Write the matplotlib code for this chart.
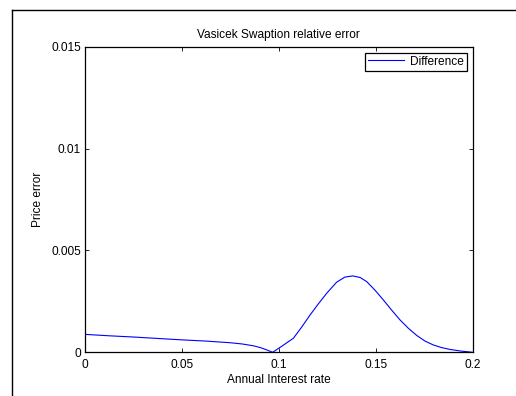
import matplotlib
matplotlib.use("Agg")
import matplotlib.pyplot as plt
from matplotlib.lines import Line2D

# values
rate = [0.0, 0.0125, 0.025, 0.0375, 0.05, 0.0625, 0.0748, 0.0810, 0.0868, 0.0905, 0.0937, 0.0968,
        0.1020, 0.1075, 0.1118, 0.1161, 0.1204, 0.1247, 0.1298, 0.1340, 0.1381, 0.1420,
        0.1453, 0.1495, 0.1539, 0.1582, 0.1625, 0.1668, 0.1711, 0.1754, 0.1797, 0.1840,
        0.1883, 0.1940, 0.2]
error = [0.00088, 0.00081, 0.00075, 0.00068, 0.00061, 0.00055, 0.00047, 0.00041, 0.00032, 0.00023,
         0.00012, 0.0, 0.00033, 0.00069, 0.00124, 0.00183, 0.00238, 0.00290, 0.00344, 0.00369,
         0.00375, 0.00367, 0.00347, 0.00306, 0.00257, 0.00207, 0.00159, 0.00118, 0.00083,
         0.00055, 0.00036, 0.00023, 0.00014, 0.00006, 0.0]

x_ticks = [0, 0.05, 0.1, 0.15, 0.2]
x_tick_labels = ["0", "0.05", "0.1", "0.15", "0.2"]
y_ticks = [0, 0.005, 0.01, 0.015]
y_tick_labels = ["0", "0.005", "0.01", "0.015"]

plt.rcParams["font.family"] = ["Liberation Sans", "DejaVu Sans"]
fs = 8.6

fig = plt.figure(figsize=(5.16, 3.96), dpi=100)
W, H = 516, 396
ax = fig.add_axes([85 / W, 1 - 352.3 / H, (472.7 - 85) / W, (352.3 - 46.7) / H])

ax.plot(rate, error, color="#0000ff", linewidth=0.8, label="Difference")
ax.set_xlim(0, 0.2)
ax.set_ylim(0, 0.015)
ax.set_xticks(x_ticks)
ax.set_xticklabels(x_tick_labels)
ax.set_yticks(y_ticks)
ax.set_yticklabels(y_tick_labels)
ax.tick_params(direction="in", top=True, right=True, length=3, width=0.6, labelsize=fs)
ax.tick_params(axis="x", pad=4.5)
ax.tick_params(axis="y", pad=3)
for s in ax.spines.values():
    s.set_linewidth(0.9)

ax.set_title("Vasicek Swaption relative error", fontsize=fs, pad=6)
ax.set_xlabel("Annual Interest rate", fontsize=fs, labelpad=2.5)
ax.set_ylabel("Price error", fontsize=fs, labelpad=5)

leg = ax.legend(loc="upper right", fancybox=False, framealpha=1, edgecolor="black",
                fontsize=fs, borderaxespad=0.5, handlelength=3.0, borderpad=0.25,
                handletextpad=0.5)
leg.get_frame().set_linewidth(0.9)

# partial outer frame of the screenshot
fig.add_artist(Line2D([12 / W, 12 / W], [0, 1 - 10 / H], color="black", linewidth=1.0))
fig.add_artist(Line2D([12 / W, 1], [1 - 10 / H, 1 - 10 / H], color="black", linewidth=1.0))

fig.savefig("out.png", dpi=100)
